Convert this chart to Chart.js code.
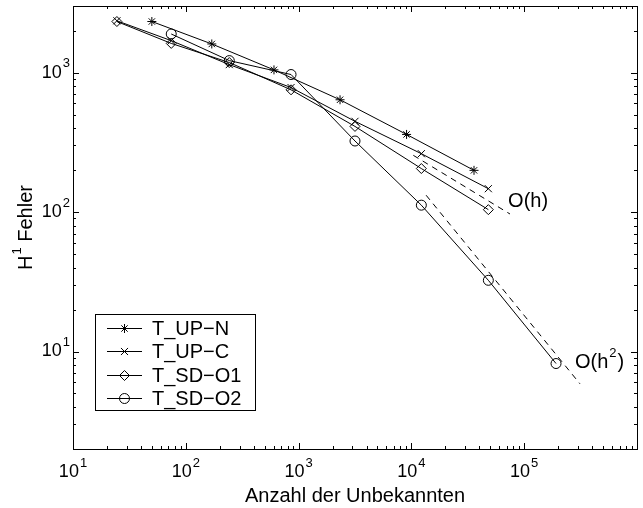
<!DOCTYPE html>
<html>
<head>
<meta charset="utf-8">
<script src="https://cdn.jsdelivr.net/npm/chart.js@4/dist/chart.umd.min.js"></script>
<style>
  html, body { margin: 0; padding: 0; background: #fff; }
  canvas { display: block; }
</style>
</head>
<body>
<canvas id="chart" width="643" height="508"></canvas>
<script>
// values
const seriesNames = ["T_UP\u2212N", "T_UP\u2212C", "T_SD\u2212O1", "T_SD\u2212O2"];
const unknownsUPN = [50, 170, 605, 2330, 9060, 35900];
const errorUPN = [2322, 1603, 1045, 638, 360, 199];
const unknownsSD = [24.5, 74.3, 243, 857, 3162, 12250, 48100];
const errorUPC = [2350, 1693, 1140, 781, 447, 262, 147];
const errorSDO1 = [2322, 1618, 1180, 752, 411, 205, 104];
const unknownsSDO2 = [74.3, 243, 857, 3162, 12250, 48100, 191500];
const errorSDO2 = [1890, 1218, 968, 323, 112, 32.4, 8.2];

// reference slopes
const refOhX = [10400, 74800];
const refOhY = [255, 96.8];
const refOh2X = [13500, 312000];
const refOh2Y = [132, 5.87];

const xTickExponents = [1, 2, 3, 4, 5];
const yTickExponents = [1, 2, 3];
const X_MIN = 10, X_MAX = 1e6, Y_MIN = 2, Y_MAX = 3000;

const FONT = '"Liberation Sans", Arial, Helvetica, sans-serif';
const TEXT_PX = 20, TICK_PX = 18, SUP_PX = 13;
const pointsOf = (xs, ys) => xs.map((x, i) => ({ x, y: ys[i] }));

const markerStyles = ["star", "crossRot", "rectRot", "circle"];
const markerRadius = [4.5, 5, 5, 5];

function dataLine(label, xs, ys, k) {
  return {
    label,
    data: pointsOf(xs, ys),
    borderColor: "#000",
    borderWidth: 1,
    pointStyle: markerStyles[k],
    pointRadius: markerRadius[k],
    pointBorderColor: "#000",
    pointBackgroundColor: "rgba(0,0,0,0)",
    pointBorderWidth: 1,
    tension: 0
  };
}

function refLine(xs, ys) {
  return {
    label: "",
    data: pointsOf(xs, ys),
    borderColor: "#000",
    borderWidth: 1,
    borderDash: [6, 5],
    pointRadius: 0,
    tension: 0
  };
}

// text like 10^3 with a raised exponent
function drawPow(ctx, base, exp, x, y, align, size) {
  ctx.font = size + "px " + FONT;
  const wb = ctx.measureText(base).width;
  ctx.font = SUP_PX + "px " + FONT;
  const we = ctx.measureText(exp).width;
  const total = wb + 1 + we;
  let left = x;
  if (align === "center") left = x - total / 2;
  if (align === "right") left = x - total;
  ctx.textAlign = "left";
  ctx.textBaseline = "middle";
  ctx.font = size + "px " + FONT;
  ctx.fillText(base, left, y);
  ctx.font = SUP_PX + "px " + FONT;
  ctx.fillText(exp, left + wb + 1, y - size * 0.5);
}

function drawMarker(ctx, style, x, y, r) {
  ctx.beginPath();
  if (style === "circle") {
    ctx.arc(x, y, r, 0, Math.PI * 2);
  } else if (style === "rectRot") {
    ctx.moveTo(x - r, y); ctx.lineTo(x, y - r);
    ctx.lineTo(x + r, y); ctx.lineTo(x, y + r); ctx.closePath();
  } else {
    const d = Math.SQRT1_2 * r;
    ctx.moveTo(x - d, y - d); ctx.lineTo(x + d, y + d);
    ctx.moveTo(x - d, y + d); ctx.lineTo(x + d, y - d);
    if (style === "star") {
      ctx.moveTo(x - r, y); ctx.lineTo(x + r, y);
      ctx.moveTo(x, y - r); ctx.lineTo(x, y + r);
    }
  }
  ctx.stroke();
}

const matlabAxes = {
  id: "matlabAxes",
  afterDraw(chart) {
    const { ctx, chartArea: a, scales } = chart;
    const xs = scales.x, ys = scales.y;
    ctx.save();
    ctx.strokeStyle = "#000";
    ctx.fillStyle = "#000";
    ctx.lineWidth = 1;

    // ticks, inward on all four sides
    ctx.beginPath();
    for (let e = 0; e <= 6; e++) {
      for (let m = 1; m <= 9; m++) {
        const v = m * Math.pow(10, e);
        const len = m === 1 ? 6 : 3;
        if (v >= X_MIN && v <= X_MAX) {
          const px = Math.round(xs.getPixelForValue(v)) + 0.5;
          ctx.moveTo(px, a.bottom); ctx.lineTo(px, a.bottom - len);
          ctx.moveTo(px, a.top); ctx.lineTo(px, a.top + len);
        }
        if (v >= Y_MIN && v <= Y_MAX) {
          const py = Math.round(ys.getPixelForValue(v)) + 0.5;
          ctx.moveTo(a.left, py); ctx.lineTo(a.left + len, py);
          ctx.moveTo(a.right, py); ctx.lineTo(a.right - len, py);
        }
      }
    }
    ctx.stroke();

    // frame
    ctx.strokeRect(Math.round(a.left) + 0.5, Math.round(a.top) + 0.5,
      Math.round(a.right - a.left), Math.round(a.bottom - a.top));

    // tick labels
    xTickExponents.forEach(e => {
      drawPow(ctx, "10", String(e), xs.getPixelForValue(Math.pow(10, e)), a.bottom + 23, "center", TICK_PX);
    });
    yTickExponents.forEach(e => {
      drawPow(ctx, "10", String(e), a.left - 3, ys.getPixelForValue(Math.pow(10, e)), "right", TICK_PX);
    });

    // axis titles
    ctx.font = TEXT_PX + "px " + FONT;
    ctx.textAlign = "center";
    ctx.textBaseline = "middle";
    ctx.fillText("Anzahl der Unbekannten", (a.left + a.right) / 2, 496);

    ctx.save();
    ctx.translate(26, (a.top + a.bottom) / 2);
    ctx.rotate(-Math.PI / 2);
    ctx.font = TEXT_PX + "px " + FONT;
    const wH = ctx.measureText("H").width;
    ctx.font = SUP_PX + "px " + FONT;
    const wOne = ctx.measureText("1").width;
    ctx.font = TEXT_PX + "px " + FONT;
    const wRest = ctx.measureText(" Fehler").width;
    const left = -(wH + 1 + wOne + wRest) / 2;
    ctx.textAlign = "left";
    ctx.fillText("H", left, 0);
    ctx.font = SUP_PX + "px " + FONT;
    ctx.fillText("1", left + wH + 1, -9);
    ctx.font = TEXT_PX + "px " + FONT;
    ctx.fillText(" Fehler", left + wH + 1 + wOne, 0);
    ctx.restore();

    // slope labels
    ctx.font = TEXT_PX + "px " + FONT;
    ctx.textAlign = "left";
    ctx.textBaseline = "middle";
    ctx.fillText("O(h)", xs.getPixelForValue(72000), ys.getPixelForValue(119));
    const ox = xs.getPixelForValue(282000), oy = ys.getPixelForValue(8.3);
    ctx.fillText("O(h", ox, oy);
    const w1 = ctx.measureText("O(h").width;
    ctx.font = SUP_PX + "px " + FONT;
    ctx.fillText("2", ox + w1 + 1, oy - 9);
    const w2 = ctx.measureText("2").width;
    ctx.font = TEXT_PX + "px " + FONT;
    ctx.fillText(")", ox + w1 + w2 + 2, oy);

    // legend
    const bx = 95.5, by = 314.5, bw = 160, bh = 96;
    ctx.fillStyle = "#fff";
    ctx.fillRect(bx, by, bw, bh);
    ctx.strokeRect(bx, by, bw, bh);
    ctx.fillStyle = "#000";
    seriesNames.forEach((name, i) => {
      const ly = Math.round(328 + i * 23.4) + 0.5;
      ctx.beginPath();
      ctx.moveTo(107, ly); ctx.lineTo(142, ly);
      ctx.stroke();
      drawMarker(ctx, markerStyles[i], 124.5, ly, markerRadius[i]);
      ctx.font = TEXT_PX + "px " + FONT;
      ctx.textAlign = "left";
      ctx.textBaseline = "middle";
      ctx.fillText(name, 152, ly + 1);
    });
    ctx.restore();
  }
};

new Chart(document.getElementById("chart"), {
  type: "line",
  data: {
    datasets: [
      dataLine(seriesNames[0], unknownsUPN, errorUPN, 0),
      dataLine(seriesNames[1], unknownsSD, errorUPC, 1),
      dataLine(seriesNames[2], unknownsSD, errorSDO1, 2),
      dataLine(seriesNames[3], unknownsSDO2, errorSDO2, 3),
      refLine(refOhX, refOhY),
      refLine(refOh2X, refOh2Y)
    ]
  },
  options: {
    responsive: false,
    animation: false,
    devicePixelRatio: 1,
    layout: { padding: { left: 73, right: 6, top: 5, bottom: 59 } },
    plugins: { legend: { display: false }, tooltip: { enabled: false } },
    scales: {
      x: { type: "logarithmic", min: X_MIN, max: X_MAX, display: false },
      y: { type: "logarithmic", min: Y_MIN, max: Y_MAX, display: false }
    }
  },
  plugins: [matlabAxes]
});
</script>
</body>
</html>
